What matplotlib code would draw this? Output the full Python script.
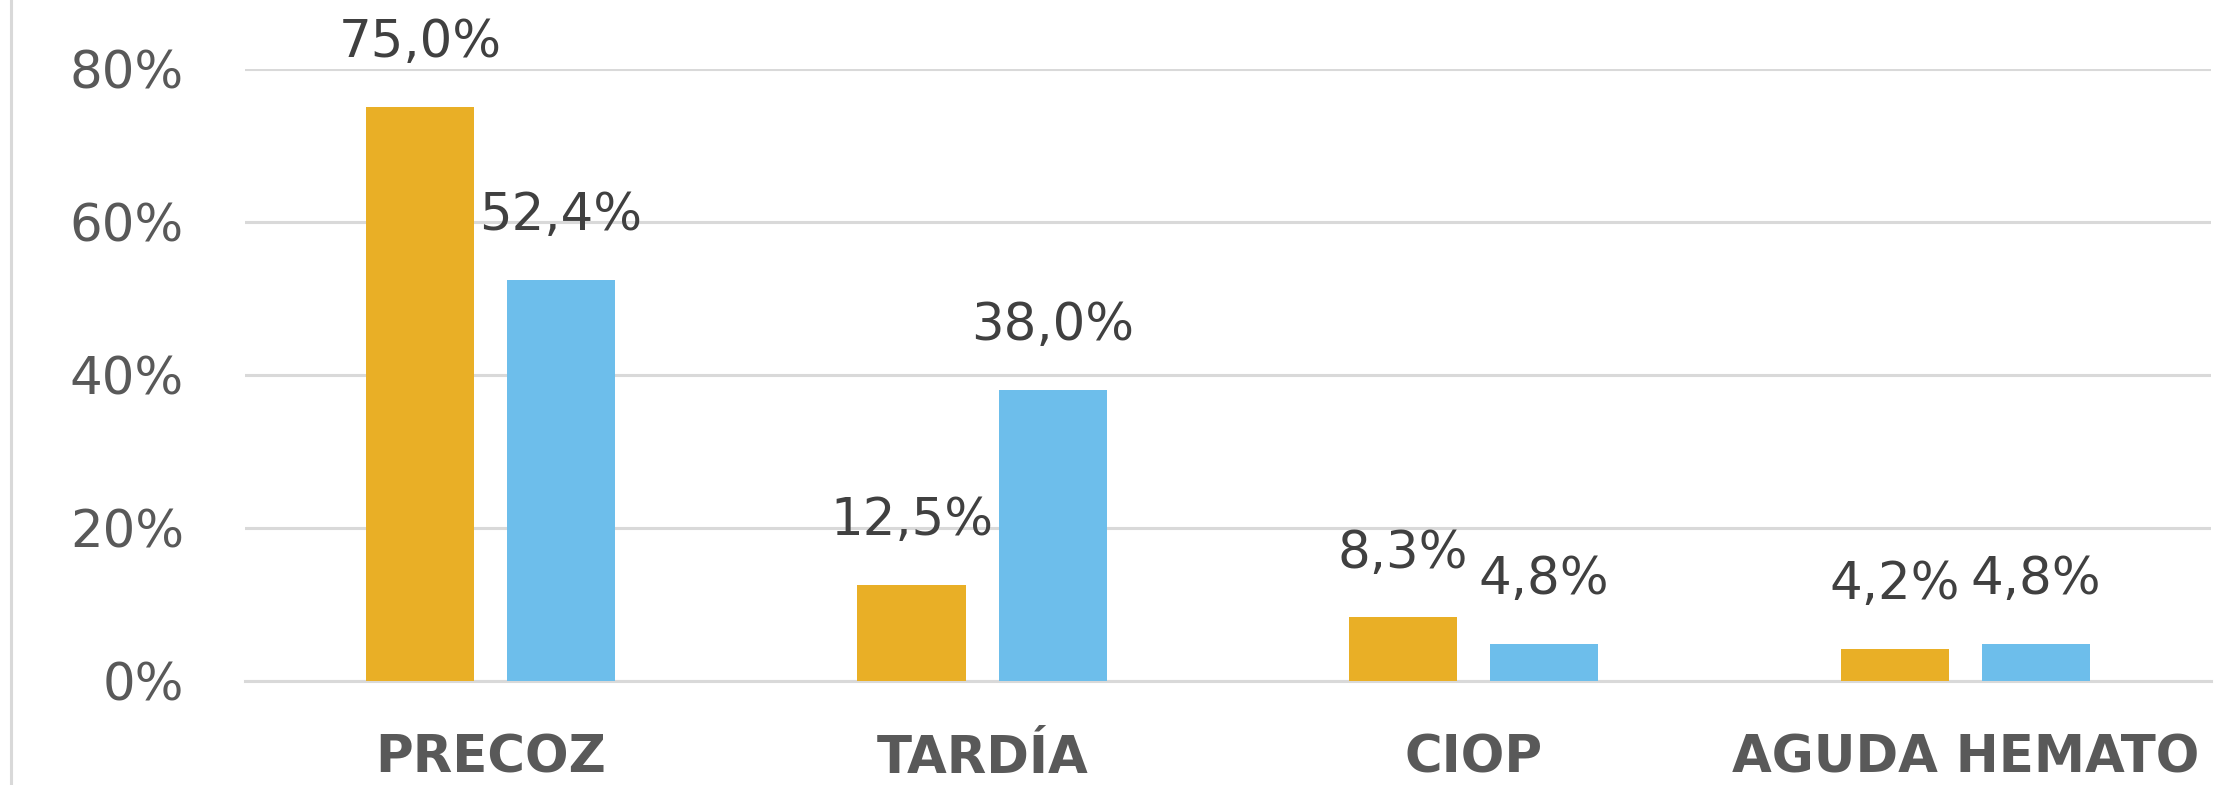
import matplotlib
matplotlib.use("Agg")
import matplotlib.pyplot as plt
from matplotlib.lines import Line2D
import numpy as np

categories = ["PRECOZ", "TARDÍA", "CIOP", "AGUDA HEMATO"]
serie_a = [75.0, 12.5, 8.3, 4.2]   # naranja
serie_b = [52.4, 38.0, 4.8, 4.8]   # azul
yticks = [0, 20, 40, 60, 80]

orange = "#E9AF26"
blue = "#6DBEEB"
grid_col = "#D9D9D9"

plt.rcParams["font.family"] = ["DejaVu Sans"]

fig = plt.figure(figsize=(22.38, 7.85), dpi=100)
ax = fig.add_axes([0.1095, 0.1325, 0.8785, 0.7802])

x = np.arange(len(categories))
w = 0.22
ax.bar(x - 0.144, serie_a, w, color=orange, zorder=3)
ax.bar(x + 0.143, serie_b, w, color=blue, zorder=3)


def fmt(v):
    return f"{v:.1f}".replace(".", ",") + "%"


for xi, v in zip(x - 0.144, serie_a):
    ax.annotate(fmt(v), (xi, v), xytext=(0, 46), textcoords="offset points",
                ha="center", va="center", fontsize=37, color="#404040",
                annotation_clip=False)
for xi, v in zip(x + 0.143, serie_b):
    ax.annotate(fmt(v), (xi, v), xytext=(0, 46), textcoords="offset points",
                ha="center", va="center", fontsize=37, color="#404040",
                annotation_clip=False)

ax.set_xlim(-0.5, len(categories) - 0.5)
ax.set_ylim(0, 80)
ax.set_yticks(yticks)
ax.set_yticklabels([f"{t}%" for t in yticks], fontsize=37, color="#595959")
ax.set_xticks(x)
ax.set_xticklabels(categories, fontsize=37, fontweight="bold", color="#595959")
ax.tick_params(axis="both", length=0)
ax.tick_params(axis="y", pad=44)
ax.tick_params(axis="x", pad=38)

ax.grid(axis="y", color=grid_col, linewidth=2.2, zorder=0)
ax.set_axisbelow(True)
for s in ax.spines.values():
    s.set_visible(False)
ax.spines["bottom"].set_visible(True)
ax.spines["bottom"].set_color(grid_col)
ax.spines["bottom"].set_linewidth(2.2)

# borde izquierdo del área del gráfico
fig.add_artist(Line2D([11 / 2238, 11 / 2238], [0, 1], color=grid_col,
                      linewidth=2.2, transform=fig.transFigure))

fig.savefig("out.png", dpi=100)
